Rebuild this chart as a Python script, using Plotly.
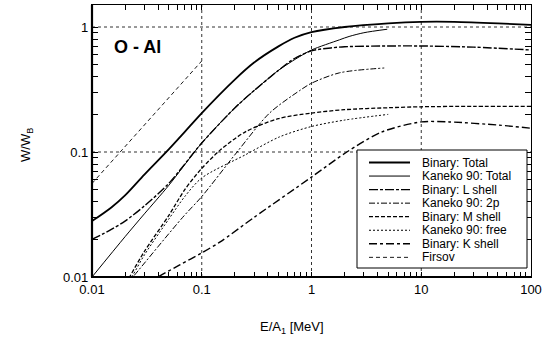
import math
import plotly.graph_objects as go

# ---- stopping-power ratio W/W_B for O ions in Al, vs energy per nucleon ----
e_bin_total = [0.01, 0.015, 0.02, 0.03, 0.05, 0.07, 0.1, 0.2, 0.3, 0.5, 0.7, 1, 2, 5, 10, 20, 50, 100]
w_bin_total = [0.028, 0.036, 0.045, 0.066, 0.105, 0.145, 0.205, 0.38, 0.52, 0.70, 0.82, 0.91, 1.0, 1.07, 1.10, 1.10, 1.07, 1.04]

e_kan_total = [0.01, 0.02, 0.03, 0.05, 0.1, 0.2, 0.3, 0.5, 0.78, 1, 1.8, 2.2, 3, 4.9]
w_kan_total = [0.01, 0.021, 0.032, 0.054, 0.118, 0.225, 0.31, 0.45, 0.58, 0.655, 0.79, 0.84, 0.9, 0.96]

e_bin_l = [0.01, 0.015, 0.02, 0.03, 0.05, 0.1, 0.2, 0.3, 0.5, 0.7, 1, 1.5, 2, 5, 10, 30, 100]
w_bin_l = [0.02, 0.024, 0.028, 0.037, 0.056, 0.118, 0.225, 0.31, 0.45, 0.56, 0.645, 0.68, 0.695, 0.705, 0.705, 0.69, 0.655]

e_kan_2p = [0.015, 0.0236, 0.067, 0.1, 0.206, 0.415, 0.78, 1, 1.8, 4.6]
w_kan_2p = [0.0062, 0.01, 0.030, 0.044, 0.098, 0.205, 0.31, 0.355, 0.43, 0.47]

e_bin_m = [0.015, 0.022, 0.03, 0.05, 0.07, 0.1, 0.15, 0.25, 0.5, 1, 2, 5, 10, 30, 100]
w_bin_m = [0.0055, 0.01, 0.016, 0.031, 0.05, 0.074, 0.105, 0.145, 0.185, 0.205, 0.218, 0.226, 0.23, 0.232, 0.232]

e_kan_free = [0.015, 0.023, 0.03, 0.05, 0.07, 0.1, 0.25, 0.51, 1, 2, 5]
w_kan_free = [0.0058, 0.01, 0.015, 0.029, 0.044, 0.062, 0.095, 0.132, 0.16, 0.18, 0.2]

e_bin_k = [0.03, 0.04, 0.063, 0.1, 0.146, 0.3, 1, 2.1, 4.4, 10, 18, 51, 100]
w_bin_k = [0.0085, 0.010, 0.0125, 0.0156, 0.019, 0.03, 0.063, 0.1, 0.145, 0.174, 0.174, 0.164, 0.155]

e_firsov = [0.01, 0.1]
w_firsov = [0.056, 0.535]

x_tick_vals = [0.01, 0.1, 1, 10, 100]
x_tick_text = ["0.01", "0.1", "1", "10", "100"]
y_tick_vals = [0.01, 0.1, 1]
y_tick_text = ["0.01", "0.1", "1"]

# minor tick positions at 2..9 within each decade
x_minor = [m * 10.0 ** k for k in range(-2, 2) for m in range(2, 10)]
y_minor = [m * 10.0 ** k for k in range(-2, 1) for m in range(2, 10) if m * 10.0 ** k < 1.5]

series = [
    ("Binary: Total", e_bin_total, w_bin_total, 1.8, "solid"),
    ("Kaneko 90: Total", e_kan_total, w_kan_total, 1.0, "solid"),
    ("Binary: L shell", e_bin_l, w_bin_l, 1.4, "9px,2px,3px,2px"),
    ("Kaneko 90: 2p", e_kan_2p, w_kan_2p, 1.0, "6px,2px,2px,2px"),
    ("Binary: M shell", e_bin_m, w_bin_m, 1.3, "4px,2px"),
    ("Kaneko 90: free", e_kan_free, w_kan_free, 1.0, "2px,2px"),
    ("Binary: K shell", e_bin_k, w_bin_k, 1.4, "8px,3px,3px,3px"),
    ("Firsov", e_firsov, w_firsov, 0.9, "4px,3px"),
]

FONT = "Liberation Sans, Arial, sans-serif"
X_RANGE = [-2, 2]
Y_RANGE = [-2, 0.176]

fig = go.Figure()
for name, xs, ys, width, dash in series:
    fig.add_trace(go.Scatter(
        x=xs, y=ys, mode="lines", name=name,
        line=dict(color="black", width=width, dash=dash, shape="spline", smoothing=0.8),
        showlegend=False,
    ))


def tick_set(major_vals, major_text, minor_vals):
    vals = list(major_vals) + list(minor_vals)
    text = list(major_text) + [" "] * len(minor_vals)
    return vals, text


xv, xt = tick_set(x_tick_vals, x_tick_text, x_minor)
yv, yt = tick_set(y_tick_vals, y_tick_text, y_minor)

axis_common = dict(
    type="log", showline=True, linecolor="black", linewidth=1.3, mirror="allticks",
    ticks="inside", ticklen=5, tickcolor="black", tickwidth=1, showgrid=False,
    zeroline=False, tickfont=dict(family=FONT, size=13, color="black"), tickmode="array",
    tickangle=0,
)
fig.update_layout(
    xaxis=dict(axis_common, range=X_RANGE, tickvals=xv, ticktext=xt),
    yaxis=dict(axis_common, range=Y_RANGE, tickvals=yv, ticktext=yt, ticklen=6),
)

L, R, T, B = 92, 24, 5, 64
W, H = 555, 341
pw, ph = W - L - R, H - T - B


def px(x):
    return (x - L) / pw


def py(y):
    return (H - B - y) / ph


def frac(v, rng):
    return (math.log10(v) - rng[0]) / (rng[1] - rng[0])


GRID = dict(color="#333333", width=1, dash="dot")
shapes = []
# decade grid lines
for v in x_tick_vals[1:-1]:
    shapes.append(dict(type="line", xref="paper", yref="paper", x0=frac(v, X_RANGE), x1=frac(v, X_RANGE),
                       y0=0, y1=1, line=GRID, layer="below"))
for v in y_tick_vals[1:]:
    shapes.append(dict(type="line", xref="paper", yref="paper", x0=0, x1=1,
                       y0=frac(v, Y_RANGE), y1=frac(v, Y_RANGE), line=GRID, layer="below"))

shapes += [
    # heavier left and bottom frame lines
    dict(type="line", xref="paper", yref="paper", x0=0, x1=0, y0=0, y1=1,
         line=dict(color="black", width=2.2)),
    dict(type="line", xref="paper", yref="paper", x0=0, x1=1, y0=0, y1=0,
         line=dict(color="black", width=2.2)),
    # legend box
    dict(type="rect", xref="paper", yref="paper", x0=px(357), x1=px(527), y0=py(268), y1=py(150),
         line=dict(color="black", width=1), fillcolor="white", layer="above"),
]

annotations = []
row0, dy = 162.5, 13.55
for i, (name, xs, ys, width, dash) in enumerate(series):
    yy = row0 + i * dy
    shapes.append(dict(type="line", xref="paper", yref="paper", x0=px(369), x1=px(410),
                       y0=py(yy), y1=py(yy), layer="above",
                       line=dict(color="black", width=width, dash=dash)))
    annotations.append(dict(xref="paper", yref="paper", x=px(420), y=py(yy), text=name,
                            showarrow=False, xanchor="left", yanchor="middle",
                            font=dict(family=FONT, size=12, color="black")))

annotations += [
    dict(xref="paper", yref="paper", x=px(112), y=py(47), text="<b>O - Al</b>", showarrow=False,
         xanchor="left", yanchor="middle", font=dict(family=FONT, size=18, color="black")),
    dict(xref="paper", yref="paper", x=px(292), y=py(327), text="E/A<sub>1</sub> [MeV]",
         showarrow=False, xanchor="center", yanchor="middle",
         font=dict(family=FONT, size=13, color="black")),
    dict(xref="paper", yref="paper", x=px(26), y=py(145), text="W/W<sub>B</sub>", textangle=-90,
         showarrow=False, xanchor="center", yanchor="middle",
         font=dict(family=FONT, size=13, color="black")),
]

fig.update_layout(
    width=W, height=H, margin=dict(l=L, r=R, t=T, b=B),
    paper_bgcolor="white", plot_bgcolor="white",
    shapes=shapes, annotations=annotations, showlegend=False,
)

fig.write_html("out.html")
